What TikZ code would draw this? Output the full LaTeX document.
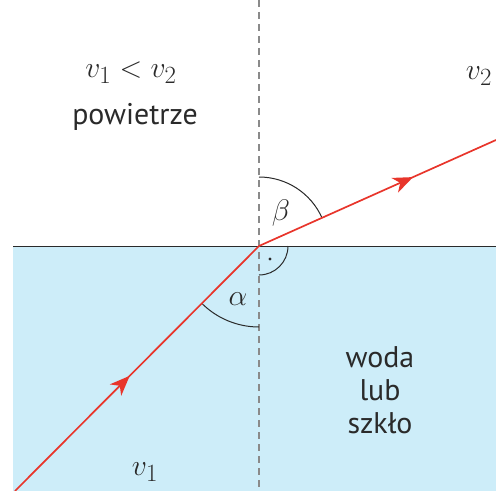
\documentclass[tikz,border=0pt]{standalone}
\usepackage{fontspec}
\setmainfont{PT Sans}
\usetikzlibrary{arrows.meta,decorations.markings}
\definecolor{Water}{HTML}{CDEDF9}
\definecolor{Ray}{HTML}{E8352B}
\definecolor{Axis}{HTML}{8A8A8A}
\definecolor{Ink}{HTML}{2A2A2A}
\tikzset{
  ray/.style={draw=Ray,line width=1.7bp},
  midarrow/.style={postaction={decorate},decoration={markings,
    mark=at position #1 with {\arrow{Stealth[length=20bp,width=16bp,inset=6bp]}}}},
  anglearc/.style={draw=Ink,line width=1bp},
  label/.style={text=Ink,font=\fontsize{30}{33}\selectfont,inner sep=0bp,align=center},
  mathlabel/.style={text=Ink,font=\fontsize{24.88}{27}\selectfont,inner sep=0bp,scale=1.2}
}
\begin{document}
\begin{tikzpicture}[x=1bp,y=-1bp]
  \path[use as bounding box] (0,0) rectangle (496,491);

  % two media
  \fill[Water] (13,246) rectangle (496,491);
  \coordinate (O) at (259,246);
  \coordinate (L) at (13,246);
  \coordinate (R) at (496,246);
  \coordinate (Top) at (259,0);
  \coordinate (Bot) at (259,491);
  \draw[Ink,line width=0.9bp] (L) -- (R);
  \draw[Axis,line width=1.3bp,dash pattern=on 7bp off 5bp] (Top) -- (Bot);

  % angles (y axis points down)
  \draw[anglearc] (259,177) arc[start angle=-90,end angle=-24,radius=69];
  \draw[anglearc] (259,327) arc[start angle=90,end angle=135,radius=81];
  \draw[anglearc] (288,246) arc[start angle=0,end angle=90,radius=29];
  \fill[Ink] (270,259) circle (1.7bp);

  % ray
  \coordinate (A) at (15,491);
  \coordinate (B) at (496,140);
  \draw[ray,midarrow=0.47] (A) -- (O);
  \draw[ray,midarrow=0.65] (O) -- (B);

  \node[mathlabel] (beta) at (281,213) {$\beta$};
  \node[mathlabel] (alpha) at (238,299) {$\alpha$};
  \node[mathlabel] (vv) at (131,73) {$v_1<v_2$};
  \node[label] (air) at (135,117) {powietrze};
  \node[mathlabel] (v2) at (479,76) {$v_2$};
  \node[mathlabel] (v1) at (145,472) {$v_1$};
  \node[label] (water) at (380,390) {woda\\lub\\szkło};
\end{tikzpicture}
\end{document}
